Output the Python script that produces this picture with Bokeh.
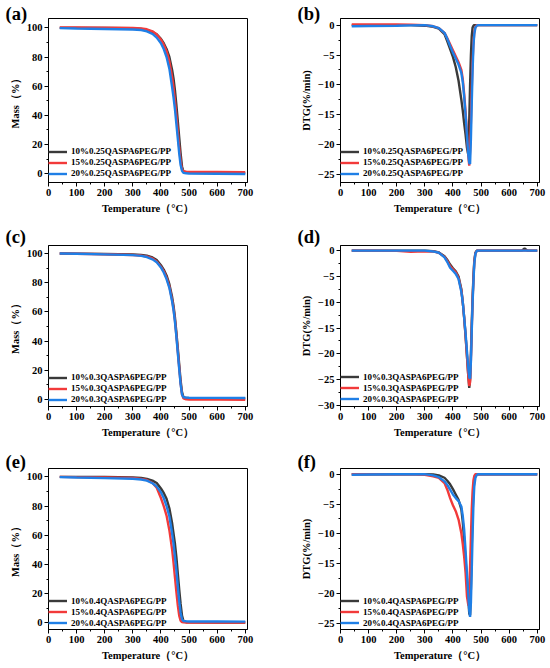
from bokeh.plotting import figure
from bokeh.models import (Range1d, SingleIntervalTicker, CustomJSTickFormatter,
                          Legend, LegendItem, Title)
from bokeh.layouts import gridplot
from bokeh.embed import file_html
from bokeh.resources import INLINE

# ---------------- data ----------------
COLORS = ["#3a3a3a", "#f23a3a", "#1f7fe6"]

# TGA temperature grid (°C)
T_TGA = [40, 100, 200, 300, 330, 350, 370, 385, 400, 410, 420, 430, 440, 445,
         450, 455, 460, 465, 470, 475, 480, 490, 500, 600, 700]

# (a) 0.25QASPA6PEG/PP  mass (%)
A_10 = [100, 100, 99.9, 99.7, 99.2, 98.5, 97.2, 95.5, 92.5, 89.5, 85.5, 80, 71, 65,
        57, 47, 36, 25, 14, 5, 1.5, 0.7, 0.6, 0.5, 0.4]
A_15 = [100.2, 100.2, 100.1, 100.0, 99.6, 99.0, 97.6, 95.5, 92, 88.5, 84, 77, 66, 59,
        50, 40, 29, 18, 9, 3, 1.8, 1.4, 1.3, 1.2, 1.1]
A_20 = [99.8, 99.5, 99.2, 98.9, 98.5, 97.6, 95.8, 93.3, 89.5, 85.5, 80, 72, 59, 52,
        44, 34, 24, 14, 6, 2, 0.6, 0.3, 0.2, 0.0, -0.2]

# (c) 0.3QASPA6PEG/PP
C_10 = [100, 99.9, 99.7, 99.3, 99.0, 98.5, 97.3, 95.5, 92, 89, 85, 79, 70, 64,
        56, 46, 35, 24, 13, 5, 1.6, 1.0, 0.9, 0.8, 0.8]
C_15 = [100, 99.8, 99.5, 99.0, 98.6, 98.0, 96.6, 94.5, 91, 88, 83.5, 77.5, 68, 62,
        54, 44, 33, 22, 11, 3.5, 0.8, 0.1, 0.0, -0.1, -0.2]
C_20 = [100, 99.8, 99.4, 98.9, 98.4, 97.6, 96, 94, 90.5, 87, 82.5, 76.5, 67, 61,
        53, 43, 32, 21, 10.5, 3.5, 1.5, 1.3, 1.2, 1.1, 1.0]

# (e) 0.4QASPA6PEG/PP
E_10 = [100, 100, 99.9, 99.6, 99.2, 98.6, 97.4, 95.8, 92, 89, 85, 78.5, 68, 61,
        54, 45, 34, 23, 13, 5, 1.5, 0.5, 0.4, 0.3, 0.3]
E_15 = [100, 99.8, 99.6, 99.2, 98.6, 97.8, 95.8, 92.5, 85.5, 80, 73.5, 63.5, 50, 41,
        31, 21, 12, 5, 1.6, 0.6, 0.4, 0.3, 0.3, 0.3, 0.3]
E_20 = [99.8, 99.5, 99.1, 98.7, 98.2, 97.4, 95.6, 93.3, 89.5, 85.5, 80, 73, 61, 54,
        45, 36, 25, 15, 7, 2.5, 1.3, 1.1, 1.0, 1.0, 0.9]

# DTG temperature grid (°C)
T_DTG = [40, 100, 200, 250, 300, 330, 350, 370, 380, 390, 400, 410, 420, 430, 435,
         440, 445, 450, 455, 458, 461, 464, 467, 470, 473, 476, 480, 485, 490, 500,
         600, 645, 655, 665, 700]

# (b) DTG (%/min)
B_10 = [0, 0, 0, 0, -0.1, -0.3, -0.6, -1.5, -2.7, -4, -5.3, -7, -9.3, -12.5, -14.3,
        -16.4, -18.3, -20.5, -21.8, -16, -10, -5, -1.8, -0.4, -0.1, 0, 0, 0, 0, 0,
        0, 0, 0, 0, 0]
B_15 = [0.1, 0.1, 0.1, 0.05, 0, -0.2, -0.5, -1.3, -2.2, -3.2, -4.2, -5.2, -6.2, -7.5, -9,
        -11.5, -14.5, -18, -22, -23.5, -21, -16, -10.5, -6, -3, -1.2, -0.3, 0, 0, 0,
        0, 0, 0, 0, 0]
B_20 = [-0.2, -0.15, -0.1, -0.05, 0, -0.2, -0.5, -1.3, -2.3, -3.5, -4.6, -5.6, -6.6, -8, -9.5,
        -12, -15, -18.5, -21.8, -23, -23.2, -19, -13, -7.5, -3.5, -1.5, -0.4, -0.1, 0, 0,
        0, 0, 0, 0, 0]

# (d)
D_10 = [0, 0, 0, 0, 0, -0.1, -0.35, -1.1, -1.8, -2.7, -3.4, -4.0, -5.0, -7.5, -10,
        -13, -16.5, -20.5, -24.5, -26.6, -25, -20, -14, -9, -5, -2, -0.4, 0, 0, 0,
        0, 0, 0.45, 0, 0]
D_15 = [0, 0, -0.05, -0.2, -0.1, -0.15, -0.4, -1.2, -2.0, -3.0, -3.6, -4.2, -5.3, -7.7, -10,
        -13, -16.5, -20.5, -24.5, -26.2, -25.5, -21, -15, -9.5, -5.5, -2.2, -0.5, 0, 0, 0,
        0, 0, 0, 0, 0]
D_20 = [0, 0, 0, 0, 0, -0.15, -0.4, -1.3, -2.2, -3.3, -3.9, -4.5, -5.5, -8, -10,
        -13, -16, -19.5, -23, -24.5, -24.8, -21.5, -15.5, -10, -6, -2.5, -0.6, 0, 0, 0,
        0, 0, 0, 0, 0]

# (f)
F_10 = [0, 0, 0, 0, 0, -0.05, -0.2, -0.6, -1.1, -1.7, -2.5, -3.4, -4.3, -5.9, -8,
        -11, -14.5, -17.7, -21, -23.3, -23.6, -19, -12, -6.5, -3, -1, -0.2, 0, 0, 0,
        0, 0, 0, 0, 0]
F_15 = [0, 0, 0, 0, -0.1, -0.35, -0.6, -1.5, -2.6, -4, -5.2, -6.2, -7.6, -9.9, -11.7,
        -13.8, -16.5, -20.5, -22, -20, -15.5, -10.5, -5.8, -2.8, -1, -0.3, 0, 0, 0, 0,
        0, 0, 0, 0, 0]
F_20 = [-0.1, -0.05, 0, 0, 0, -0.2, -0.5, -1.2, -1.8, -2.6, -3.4, -4, -4.5, -5.4, -7,
        -9.3, -12.8, -16.6, -20.5, -22.8, -23.9, -21.5, -16, -10, -5, -2, -0.6, -0.1, 0, 0,
        0, 0, 0, 0, 0]

NAMES_025 = ["10%0.25QASPA6PEG/PP", "15%0.25QASPA6PEG/PP", "20%0.25QASPA6PEG/PP"]
NAMES_03 = ["10%0.3QASPA6PEG/PP", "15%0.3QASPA6PEG/PP", "20%0.3QASPA6PEG/PP"]
NAMES_04 = ["10%0.4QASPA6PEG/PP", "15%0.4QASPA6PEG/PP", "20%0.4QASPA6PEG/PP"]

X_LABEL = "Temperature（°C）"
Y_TGA = "Mass（%）"
Y_DTG = "DTG(%/min)"

# ---------------- styling / layout ----------------
FONT = "Liberation Serif"
X_RANGE = (0, 708)

COL_GEOM = {"L": dict(width=275, left=48, right=28),
            "R": dict(width=275, left=65, right=11)}
ROW_GEOM = [dict(height=226, top=18, bottom=44, tag_standoff=-11),
            dict(height=223, top=19, bottom=43, tag_standoff=-3),
            dict(height=217, top=19, bottom=37, tag_standoff=-6)]

minus_fmt = "return tick < 0 ? '\u2212' + Math.abs(tick) : String(tick);"


def make_panel(T, ys, names, ylab, yr, yint, tag, col, row, leg_dy):
    cg = COL_GEOM[col]
    rg = ROW_GEOM[row]
    p = figure(width=cg["width"], height=rg["height"], output_backend="svg",
               toolbar_location=None, x_range=Range1d(*X_RANGE), y_range=Range1d(*yr))
    p.min_border_left = cg["left"]
    p.min_border_right = cg["right"]
    p.min_border_top = rg["top"]
    p.min_border_bottom = rg["bottom"]
    p.xgrid.visible = False
    p.ygrid.visible = False
    p.outline_line_color = "black"
    p.outline_line_width = 1
    p.background_fill_color = "white"
    p.border_fill_color = "white"

    p.title = Title(text=tag, align="left", offset=-43, standoff=rg["tag_standoff"],
                    text_font=FONT, text_font_style="bold", text_font_size="18.5px",
                    text_color="black")

    p.xaxis.ticker = SingleIntervalTicker(interval=100, num_minor_ticks=2)
    p.yaxis.ticker = SingleIntervalTicker(interval=yint, num_minor_ticks=2)
    p.yaxis.formatter = CustomJSTickFormatter(code=minus_fmt)
    for ax in (p.xaxis, p.yaxis):
        ax.axis_line_color = "black"
        ax.major_tick_line_color = "black"
        ax.minor_tick_line_color = "black"
        ax.major_tick_in = 0
        ax.major_tick_out = 4
        ax.minor_tick_in = 0
        ax.minor_tick_out = 2
        ax.major_label_text_font = FONT
        ax.major_label_text_font_style = "bold"
        ax.major_label_text_font_size = "10.5px"
        ax.major_label_text_color = "black"
        ax.axis_label_text_font = FONT
        ax.axis_label_text_font_style = "bold"
        ax.axis_label_text_font_size = "10.5px"
        ax.axis_label_text_color = "black"
    p.xaxis.major_label_standoff = 2
    p.xaxis.axis_label_standoff = 4
    p.yaxis.major_label_standoff = 2
    p.yaxis.axis_label_standoff = 3
    p.xaxis.axis_label = X_LABEL
    p.yaxis.axis_label = ylab

    items = []
    for y, nm, c in zip(ys, names, COLORS):
        r = p.line(T, y, line_color=c, line_width=2.4)
        items.append(LegendItem(label=nm, renderers=[r]))
    leg = Legend(items=items, location=(0, leg_dy), padding=0, margin=0, spacing=0,
                 label_height=11, glyph_height=11, glyph_width=19, label_standoff=4,
                 label_text_font=FONT, label_text_font_style="bold",
                 label_text_font_size="9px", label_text_color="black",
                 background_fill_alpha=0, border_line_alpha=0)
    p.add_layout(leg, "center")
    return p


pa = make_panel(T_TGA, [A_10, A_15, A_20], NAMES_025, Y_TGA, (-6, 106.4), 20, "(a)", "L", 0, 3.2)
pb = make_panel(T_DTG, [B_10, B_15, B_20], NAMES_025, Y_DTG, (-26.3, 1.1), 5, "(b)", "R", 0, 3.2)
pc = make_panel(T_TGA, [C_10, C_15, C_20], NAMES_03, Y_TGA, (-4.8, 105.5), 20, "(c)", "L", 1, 1.5)
pd = make_panel(T_DTG, [D_10, D_15, D_20], NAMES_03, Y_DTG, (-30.2, 1.0), 5, "(d)", "R", 1, 2.0)
pe = make_panel(T_TGA, [E_10, E_15, E_20], NAMES_04, Y_TGA, (-4.5, 105.7), 20, "(e)", "L", 2, 1.0)
pf = make_panel(T_DTG, [F_10, F_15, F_20], NAMES_04, Y_DTG, (-26.0, 0.95), 5, "(f)", "R", 2, 1.0)

layout = gridplot([[pa, pb], [pc, pd], [pe, pf]], toolbar_location=None)

open("out.html", "w").write(file_html(layout, INLINE))
